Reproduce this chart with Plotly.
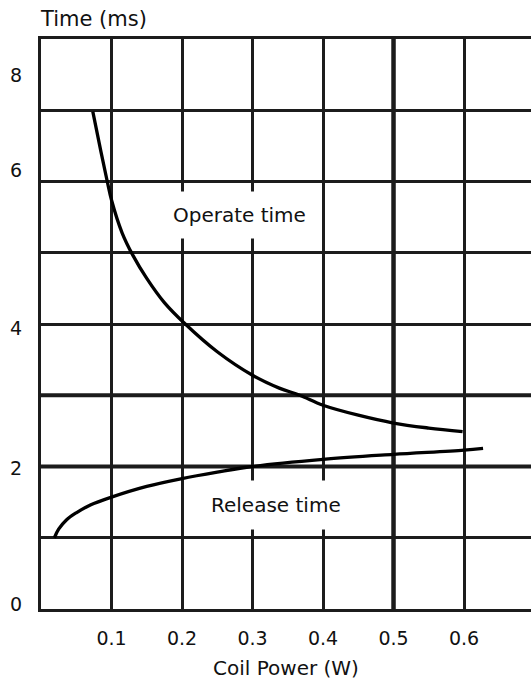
import plotly.graph_objects as go

# Data
op_x = [0.0735, 0.085, 0.094, 0.1, 0.115, 0.13, 0.15, 0.175, 0.2035, 0.25, 0.3, 0.338, 0.367, 0.4, 0.45, 0.5, 0.55, 0.598]
op_y = [6.98, 6.42, 6.0, 5.74, 5.28, 4.97, 4.64, 4.3, 4.01, 3.61, 3.28, 3.10, 3.0, 2.86, 2.72, 2.61, 2.54, 2.49]

rel_x = [0.019, 0.025, 0.036, 0.05, 0.07, 0.1, 0.15, 0.2, 0.25, 0.3, 0.4, 0.5, 0.6, 0.627]
rel_y = [1.0, 1.12, 1.25, 1.35, 1.46, 1.57, 1.72, 1.83, 1.92, 2.0, 2.10, 2.17, 2.23, 2.255]

x_tick_vals = [0.1, 0.2, 0.3, 0.4, 0.5, 0.6]
x_tick_text = ["0.1", "0.2", "0.3", "0.4", "0.5", "0.6"]
y_label_vals = [0.06, 1.98, 3.94, 6.15, 7.49]
y_label_text = ["0", "2", "4", "6", "8"]
bold_x = [0.5]
bold_y = [2, 3]

INK = "#1c1c1c"
FONT = "DejaVu Sans"

fig = go.Figure()
fig.add_trace(go.Scatter(x=op_x, y=op_y, mode="lines",
                         line=dict(color="#000", width=3.3, shape="spline", smoothing=1.0),
                         hoverinfo="skip", showlegend=False))
fig.add_trace(go.Scatter(x=rel_x, y=rel_y, mode="lines",
                         line=dict(color="#000", width=3.3, shape="spline", smoothing=1.0),
                         hoverinfo="skip", showlegend=False))
# invisible trace so the label axis is drawn
fig.add_trace(go.Scatter(x=[None], y=[None], yaxis="y2", mode="lines",
                         hoverinfo="skip", showlegend=False))

shapes = []
for xv in bold_x:
    shapes.append(dict(type="line", xref="x", yref="paper", x0=xv, x1=xv, y0=0, y1=1,
                       line=dict(color=INK, width=4.5), layer="between"))
for yv in bold_y:
    shapes.append(dict(type="line", xref="paper", yref="y", x0=0, x1=1, y0=yv, y1=yv,
                       line=dict(color=INK, width=4.2), layer="between"))

annotations = [
    dict(text="Operate time", x=0.281, y=5.53, xref="x", yref="y", showarrow=False,
         font=dict(family=FONT, size=20, color="#111"), bgcolor="white", borderpad=11),
    dict(text="Release time", x=0.333, y=1.46, xref="x", yref="y", showarrow=False,
         font=dict(family=FONT, size=20, color="#111"), bgcolor="white", borderpad=12),
    dict(text="Time (ms)", x=0, y=1, xref="paper", yref="paper", xanchor="left", yanchor="bottom",
         xshift=-3, yshift=6, showarrow=False, font=dict(family=FONT, size=21, color="#111")),
]

fig.update_layout(
    width=531, height=692,
    margin=dict(l=41, r=0, t=39, b=83),
    paper_bgcolor="white", plot_bgcolor="white",
    shapes=shapes, annotations=annotations,
    xaxis=dict(range=[0, 0.695], tickvals=x_tick_vals, ticktext=x_tick_text,
               showgrid=True, gridcolor=INK, gridwidth=2.5, zeroline=False,
               showline=True, linecolor=INK, linewidth=2.5, mirror=True,
               ticks="outside", ticklen=10, tickcolor="rgba(0,0,0,0)",
               tickfont=dict(family=FONT, size=19, color="#111"),
               title=dict(text="Coil Power (W)", font=dict(family=FONT, size=20, color="#111"), standoff=14)),
    yaxis=dict(range=[0, 8], tick0=0, dtick=1, showticklabels=False,
               showgrid=True, gridcolor=INK, gridwidth=2.5, zeroline=False,
               showline=True, linecolor=INK, linewidth=2.5, ticks=""),
    yaxis2=dict(range=[0, 8], overlaying="y", side="left", anchor="x",
                tickvals=y_label_vals, ticktext=y_label_text,
                showgrid=False, zeroline=False, showline=False,
                ticks="outside", ticklen=14, tickcolor="rgba(0,0,0,0)",
                tickfont=dict(family=FONT, size=19, color="#111")),
)

fig.write_html("out.html", config={"displayModeBar": False},
               post_script="document.body.style.margin='0';document.body.style.overflow='hidden';")
